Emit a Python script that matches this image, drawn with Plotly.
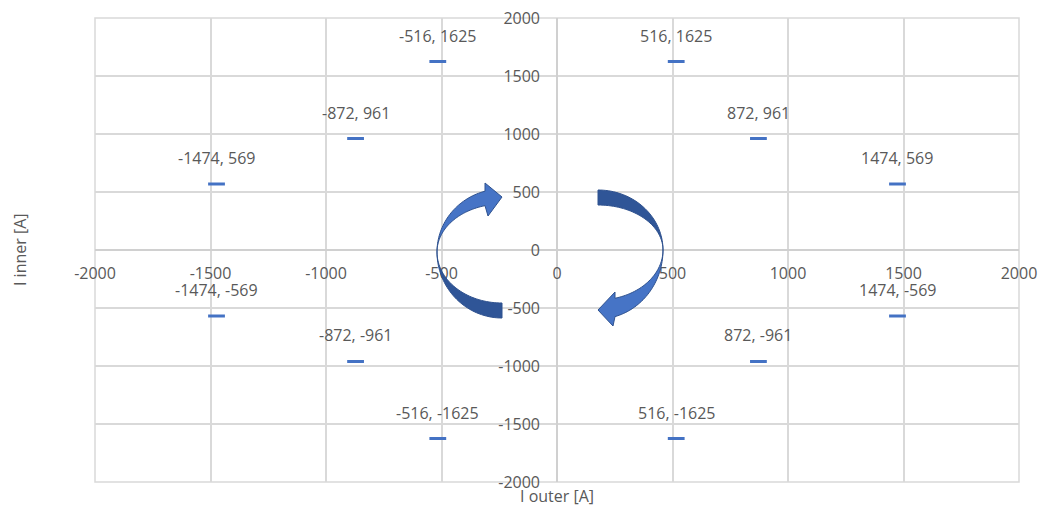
import numpy as np
import plotly.graph_objects as go

# ---------------- data ----------------
i_outer = [516, -516, 872, -872, 1474, -1474, 1474, -1474, 872, -872, 516, -516]
i_inner = [1625, 1625, 961, 961, 569, 569, -569, -569, -961, -961, -1625, -1625]
tick_vals = [-2000, -1500, -1000, -500, 0, 500, 1000, 1500, 2000]
tick_text = ["-2000", "-1500", "-1000", "-500", "0", "500", "1000", "1500", "2000"]
x_title = "I outer [A]"
y_title = "I inner [A]"

# ---------------- layout geometry ----------------
W, H = 1040, 509
ML, MT = 95, 18
PW, PH = 924, 464
MR, MB = W - ML - PW, H - MT - PH
GRID = "#D9D9D9"
TXT = "#595959"
FONT = "Open Sans"


def px2data(px, py):
    return (px - ML) / PW * 4000 - 2000, 2000 - (py - MT) / PH * 4000


def arc(cx, cy, rx, ry, t0, t1, n=40):
    t = np.linspace(t0, t1, n)
    return list(zip(cx + rx * np.cos(t), cy + ry * np.sin(t)))


def path(points):
    pts = [px2data(x, y) for x, y in points]
    s = "M %.2f,%.2f " % pts[0]
    s += " ".join("L %.2f,%.2f" % p for p in pts[1:])
    return s + " Z"


LIGHT = "#4674C6"
DARK = "#2F5597"
EDGE = "#2F528F"

shapes = []

# left arrow (head at top pointing right)
cx, cy, rx = 502, 252, 65
th_o = 2 * np.pi - np.arccos((485 - cx) / rx)
upper = arc(cx, cy, rx, 63, np.pi, th_o) + [(485, 183), (502, 197), (488, 216)] + arc(cx, cy, rx, 48, th_o, np.pi)
lower = arc(cx, cy, rx, 66, np.pi, np.pi / 2) + arc(cx, cy, rx, 51, np.pi / 2, np.pi)
shapes.append(dict(type="path", path=path(lower), fillcolor=DARK, line=dict(color=EDGE, width=1), layer="above"))
shapes.append(dict(type="path", path=path(upper), fillcolor=LIGHT, line=dict(color=EDGE, width=1), layer="above"))

# right arrow (tail at top, head at bottom pointing left)
cx, cy, rx = 598, 250, 65
tail = arc(cx, cy, rx, 60, 0, -np.pi / 2) + arc(cx, cy, rx, 45, -np.pi / 2, 0)
th_b = np.arccos((615 - cx) / rx)
head = arc(cx, cy, rx, 69, 0, th_b) + [(613, 326), (598, 310), (615, 292)] + arc(cx, cy, rx, 50, th_b, 0)
shapes.append(dict(type="path", path=path(tail), fillcolor=DARK, line=dict(color=EDGE, width=1), layer="above"))
shapes.append(dict(type="path", path=path(head), fillcolor=LIGHT, line=dict(color=EDGE, width=1), layer="above"))

# plot border
shapes.insert(0, dict(type="rect", xref="paper", yref="paper", x0=0, y0=0, x1=1, y1=1,
                      line=dict(color=GRID, width=1.5), layer="below"))

fig = go.Figure()
fig.add_trace(go.Scatter(
    x=i_outer, y=i_inner, mode="markers",
    marker=dict(symbol="line-ew", size=12, line=dict(color="#4472C4", width=3)),
    hoverinfo="x+y", showlegend=False,
))

annotations = []
for xv, yv in zip(i_outer, i_inner):
    annotations.append(dict(x=xv, y=yv, xref="x", yref="y", text=f"{xv}, {yv}",
                            showarrow=False, yshift=26,
                            font=dict(family=FONT, size=16, color=TXT)))
annotations.append(dict(x=0.5, y=1 - (496 - MT) / PH, xref="paper", yref="paper", text=x_title,
                        showarrow=False, yanchor="middle",
                        font=dict(family=FONT, size=16, color=TXT)))
annotations.append(dict(x=(20 - ML) / PW, y=0.5, xref="paper", yref="paper", text=y_title,
                        showarrow=False, textangle=-90, xanchor="center", yanchor="middle",
                        font=dict(family=FONT, size=16, color=TXT)))

axis_common = dict(range=[-2000, 2000], tickvals=tick_vals, ticktext=tick_text,
                   showgrid=True, gridcolor=GRID, gridwidth=1.5,
                   zeroline=True, zerolinecolor="#D0D0D0", zerolinewidth=1.5,
                   showline=False, anchor="free", position=0.5, ticks="",
                   automargin=False, ticklabeloverflow="allow",
                   tickfont=dict(family=FONT, size=16, color=TXT), fixedrange=True)

fig.update_layout(
    width=W, height=H,
    margin=dict(l=ML, r=MR, t=MT, b=MB, pad=0, autoexpand=False),
    paper_bgcolor="white", plot_bgcolor="white",
    showlegend=False,
    shapes=shapes,
    annotations=annotations,
    xaxis=dict(axis_common, ticklabelstandoff=12),
    yaxis=dict(axis_common, ticklabelstandoff=17),
)

fig.write_html("out.html",
               config={"displayModeBar": False},
               post_script="document.body.style.margin='0';document.body.style.overflow='hidden';")
